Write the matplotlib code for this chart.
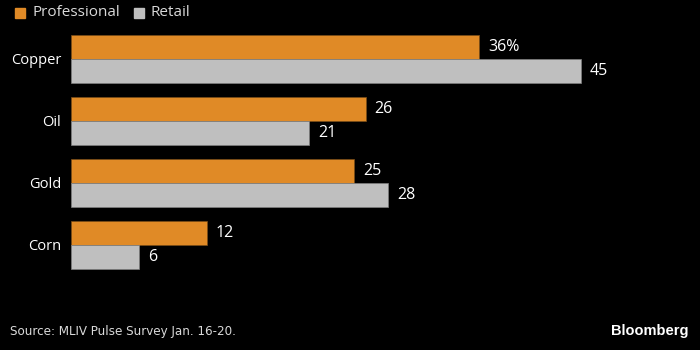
import matplotlib.pyplot as plt
import numpy as np

# survey data
commodities = ['Copper', 'Oil', 'Gold', 'Corn']
professional = [36, 26, 25, 12]
retail = [45, 21, 28, 6]
pro_labels = ['36%', '26', '25', '12']
ret_labels = ['45', '21', '28', '6']

orange = '#E08A26'
grey = '#BFBFBF'

plt.rcParams['font.family'] = ['Open Sans', 'DejaVu Sans']

fig = plt.figure(figsize=(7, 3.5), dpi=100, facecolor='black')
ax = fig.add_axes([71/700, 74/350, 629/700, 248/350])
ax.set_facecolor('black')

y = np.arange(len(commodities))
h = 0.38
ax.barh(y - h/2, professional, height=h, color=orange, edgecolor='#7a4d18', linewidth=0.5)
ax.barh(y + h/2, retail, height=h, color=grey, edgecolor='#808080', linewidth=0.5)

for i in range(len(commodities)):
    ax.text(professional[i] + 0.8, y[i] - h/2, pro_labels[i], color='white',
            va='center', ha='left', fontsize=11.5)
    ax.text(retail[i] + 0.8, y[i] + h/2, ret_labels[i], color='white',
            va='center', ha='left', fontsize=11.5)

ax.set_xlim(0, 629/11.33)
ax.set_ylim(3.5, -0.5)
ax.set_yticks(y)
ax.set_yticklabels(commodities, color='white', fontsize=10.5)
ax.tick_params(axis='y', length=0, pad=7)
ax.set_xticks([])
for s in ax.spines.values():
    s.set_visible(False)

# legend drawn by hand in figure coords
fig.patches.append(plt.Rectangle((15/700, 1 - 18/350), 10/700, 10/350, color=orange,
                                 transform=fig.transFigure))
fig.text(32/700, 1 - 12/350, 'Professional', color='#d9d9d9', fontsize=11, va='center')
fig.patches.append(plt.Rectangle((134/700, 1 - 18/350), 10/700, 10/350, color=grey,
                                 transform=fig.transFigure))
fig.text(150/700, 1 - 12/350, 'Retail', color='#d9d9d9', fontsize=11, va='center')

fig.text(10/700, 1 - 331/350, 'Source: MLIV Pulse Survey Jan. 16-20.', color='#d9d9d9',
         fontsize=9.5, va='center', family='DejaVu Sans', fontstretch='condensed')
fig.text(688/700, 1 - 331/350, 'Bloomberg', color='white', fontsize=10.5, va='center',
         ha='right', fontweight='bold', family=['Liberation Sans', 'DejaVu Sans'])

fig.savefig('out.png', dpi=100, facecolor='black')
